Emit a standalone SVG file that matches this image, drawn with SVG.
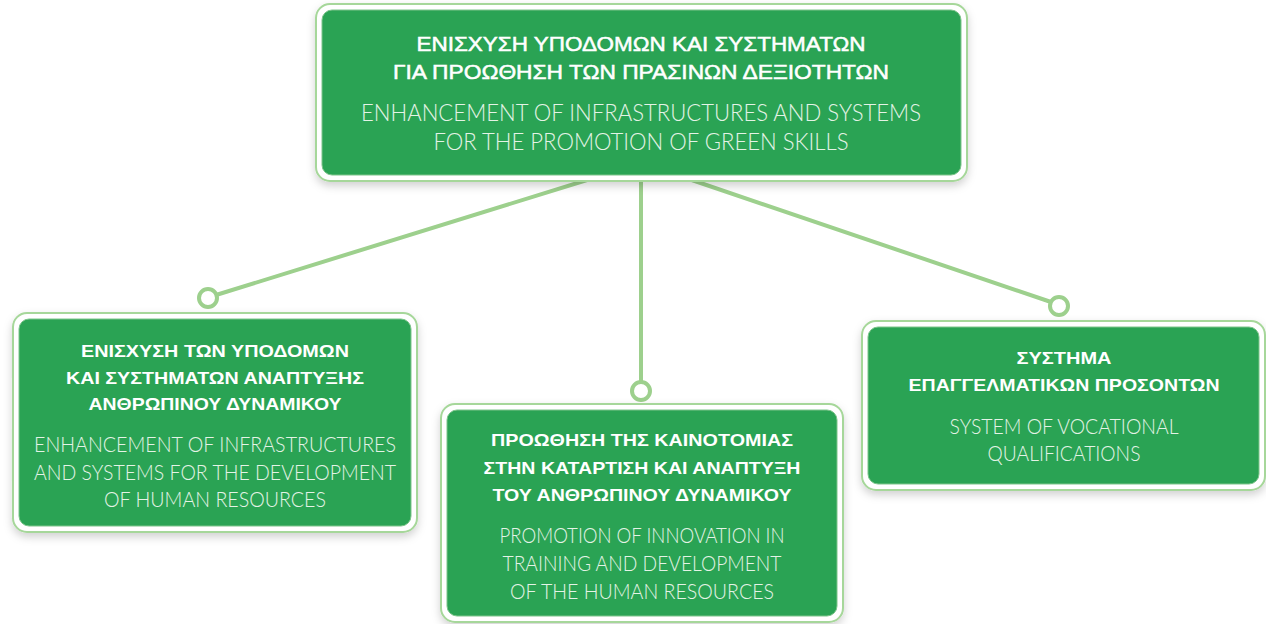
<svg xmlns="http://www.w3.org/2000/svg" width="1266" height="624" viewBox="0 0 1266 624">
<defs>
<style>
.outer{fill:#ffffff;stroke:#a6d79a;stroke-width:2}
.inner{fill:#2aa354;stroke:#7cc48a;stroke-width:1}
.conn{stroke:#9dd08d;stroke-width:4;fill:none;stroke-linecap:round}
.dot{fill:#ffffff;stroke:#9dd08d;stroke-width:4}
.gr{font-family:"Liberation Sans","DejaVu Sans",sans-serif;font-weight:bold;fill:#ffffff;text-anchor:middle}
.grt{font-family:"Liberation Sans","DejaVu Sans",sans-serif;font-weight:normal;fill:#ffffff;stroke:#ffffff;stroke-width:0.5;text-anchor:middle}
.en{font-family:Lato,"Liberation Sans",sans-serif;font-weight:300;fill:#e4f3e6;text-anchor:middle}
</style>
<filter id="sh" x="-10%" y="-10%" width="120%" height="130%">
<feDropShadow dx="0" dy="4" stdDeviation="4" flood-color="#000" flood-opacity="0.18"/>
</filter>
</defs>
<g id="connectors">
<line class="conn" x1="600" y1="176" x2="216" y2="295"/>
<line class="conn" x1="641" y1="176" x2="641" y2="382"/>
<line class="conn" x1="680" y1="176" x2="1051" y2="302"/>
<circle class="dot" cx="208" cy="298" r="9"/>
<circle class="dot" cx="641" cy="391" r="9"/>
<circle class="dot" cx="1059" cy="306" r="9"/>
</g>
<g id="top">
<rect class="outer" x="316" y="4" width="651" height="177" rx="14" filter="url(#sh)"/>
<rect class="inner" x="322" y="10" width="639" height="165" rx="10"/>
<text class="grt" x="641" y="51" font-size="20" textLength="449" lengthAdjust="spacingAndGlyphs">ΕΝΙΣΧΥΣΗ ΥΠΟΔΟΜΩΝ ΚΑΙ ΣΥΣΤΗΜΑΤΩΝ</text>
<text class="grt" x="641" y="79" font-size="20" textLength="496" lengthAdjust="spacingAndGlyphs">ΓΙΑ ΠΡΟΩΘΗΣΗ ΤΩΝ ΠΡΑΣΙΝΩΝ ΔΕΞΙΟΤΗΤΩΝ</text>
<text class="en" x="641" y="121" font-size="23" textLength="560" lengthAdjust="spacingAndGlyphs">ENHANCEMENT OF INFRASTRUCTURES AND SYSTEMS</text>
<text class="en" x="641" y="150" font-size="23" textLength="415" lengthAdjust="spacingAndGlyphs">FOR THE PROMOTION OF GREEN SKILLS</text>
</g>
<g id="left">
<rect class="outer" x="13" y="313" width="404" height="219" rx="14" filter="url(#sh)"/>
<rect class="inner" x="19" y="319" width="392" height="207" rx="10"/>
<text class="gr" x="215" y="357" font-size="17" textLength="268" lengthAdjust="spacingAndGlyphs">ΕΝΙΣΧΥΣΗ ΤΩΝ ΥΠΟΔΟΜΩΝ</text>
<text class="gr" x="215" y="384" font-size="17" textLength="298" lengthAdjust="spacingAndGlyphs">ΚΑΙ ΣΥΣΤΗΜΑΤΩΝ ΑΝΑΠΤΥΞΗΣ</text>
<text class="gr" x="215" y="410" font-size="17" textLength="253" lengthAdjust="spacingAndGlyphs">ΑΝΘΡΩΠΙΝΟΥ ΔΥΝΑΜΙΚΟΥ</text>
<text class="en" x="215" y="452" font-size="21" textLength="362" lengthAdjust="spacingAndGlyphs">ENHANCEMENT OF INFRASTRUCTURES</text>
<text class="en" x="215" y="480" font-size="21" textLength="362" lengthAdjust="spacingAndGlyphs">AND SYSTEMS FOR THE DEVELOPMENT</text>
<text class="en" x="215" y="507" font-size="21" textLength="222" lengthAdjust="spacingAndGlyphs">OF HUMAN RESOURCES</text>
</g>
<g id="middle">
<rect class="outer" x="441" y="404" width="402" height="218" rx="14" filter="url(#sh)"/>
<rect class="inner" x="447" y="410" width="390" height="206" rx="10"/>
<text class="gr" x="642" y="446" font-size="17" textLength="302" lengthAdjust="spacingAndGlyphs">ΠΡΟΩΘΗΣΗ ΤΗΣ ΚΑΙΝΟΤΟΜΙΑΣ</text>
<text class="gr" x="642" y="474" font-size="17" textLength="317" lengthAdjust="spacingAndGlyphs">ΣΤΗΝ ΚΑΤΑΡΤΙΣΗ ΚΑΙ ΑΝΑΠΤΥΞΗ</text>
<text class="gr" x="642" y="501" font-size="17" textLength="299" lengthAdjust="spacingAndGlyphs">ΤΟΥ ΑΝΘΡΩΠΙΝΟΥ ΔΥΝΑΜΙΚΟΥ</text>
<text class="en" x="642" y="543" font-size="21" textLength="285" lengthAdjust="spacingAndGlyphs">PROMOTION OF INNOVATION IN</text>
<text class="en" x="642" y="571" font-size="21" textLength="279" lengthAdjust="spacingAndGlyphs">TRAINING AND DEVELOPMENT</text>
<text class="en" x="642" y="599" font-size="21" textLength="264" lengthAdjust="spacingAndGlyphs">OF THE HUMAN RESOURCES</text>
</g>
<g id="right">
<rect class="outer" x="862" y="321" width="403" height="169" rx="14" filter="url(#sh)"/>
<rect class="inner" x="868" y="327" width="391" height="157" rx="10"/>
<text class="gr" x="1064" y="364" font-size="17" textLength="95" lengthAdjust="spacingAndGlyphs">ΣΥΣΤΗΜΑ</text>
<text class="gr" x="1064" y="391" font-size="17" textLength="311" lengthAdjust="spacingAndGlyphs">ΕΠΑΓΓΕΛΜΑΤΙΚΩΝ ΠΡΟΣΟΝΤΩΝ</text>
<text class="en" x="1064" y="434" font-size="21" textLength="229" lengthAdjust="spacingAndGlyphs">SYSTEM OF VOCATIONAL</text>
<text class="en" x="1064" y="461" font-size="21" textLength="153" lengthAdjust="spacingAndGlyphs">QUALIFICATIONS</text>
</g>
</svg>
